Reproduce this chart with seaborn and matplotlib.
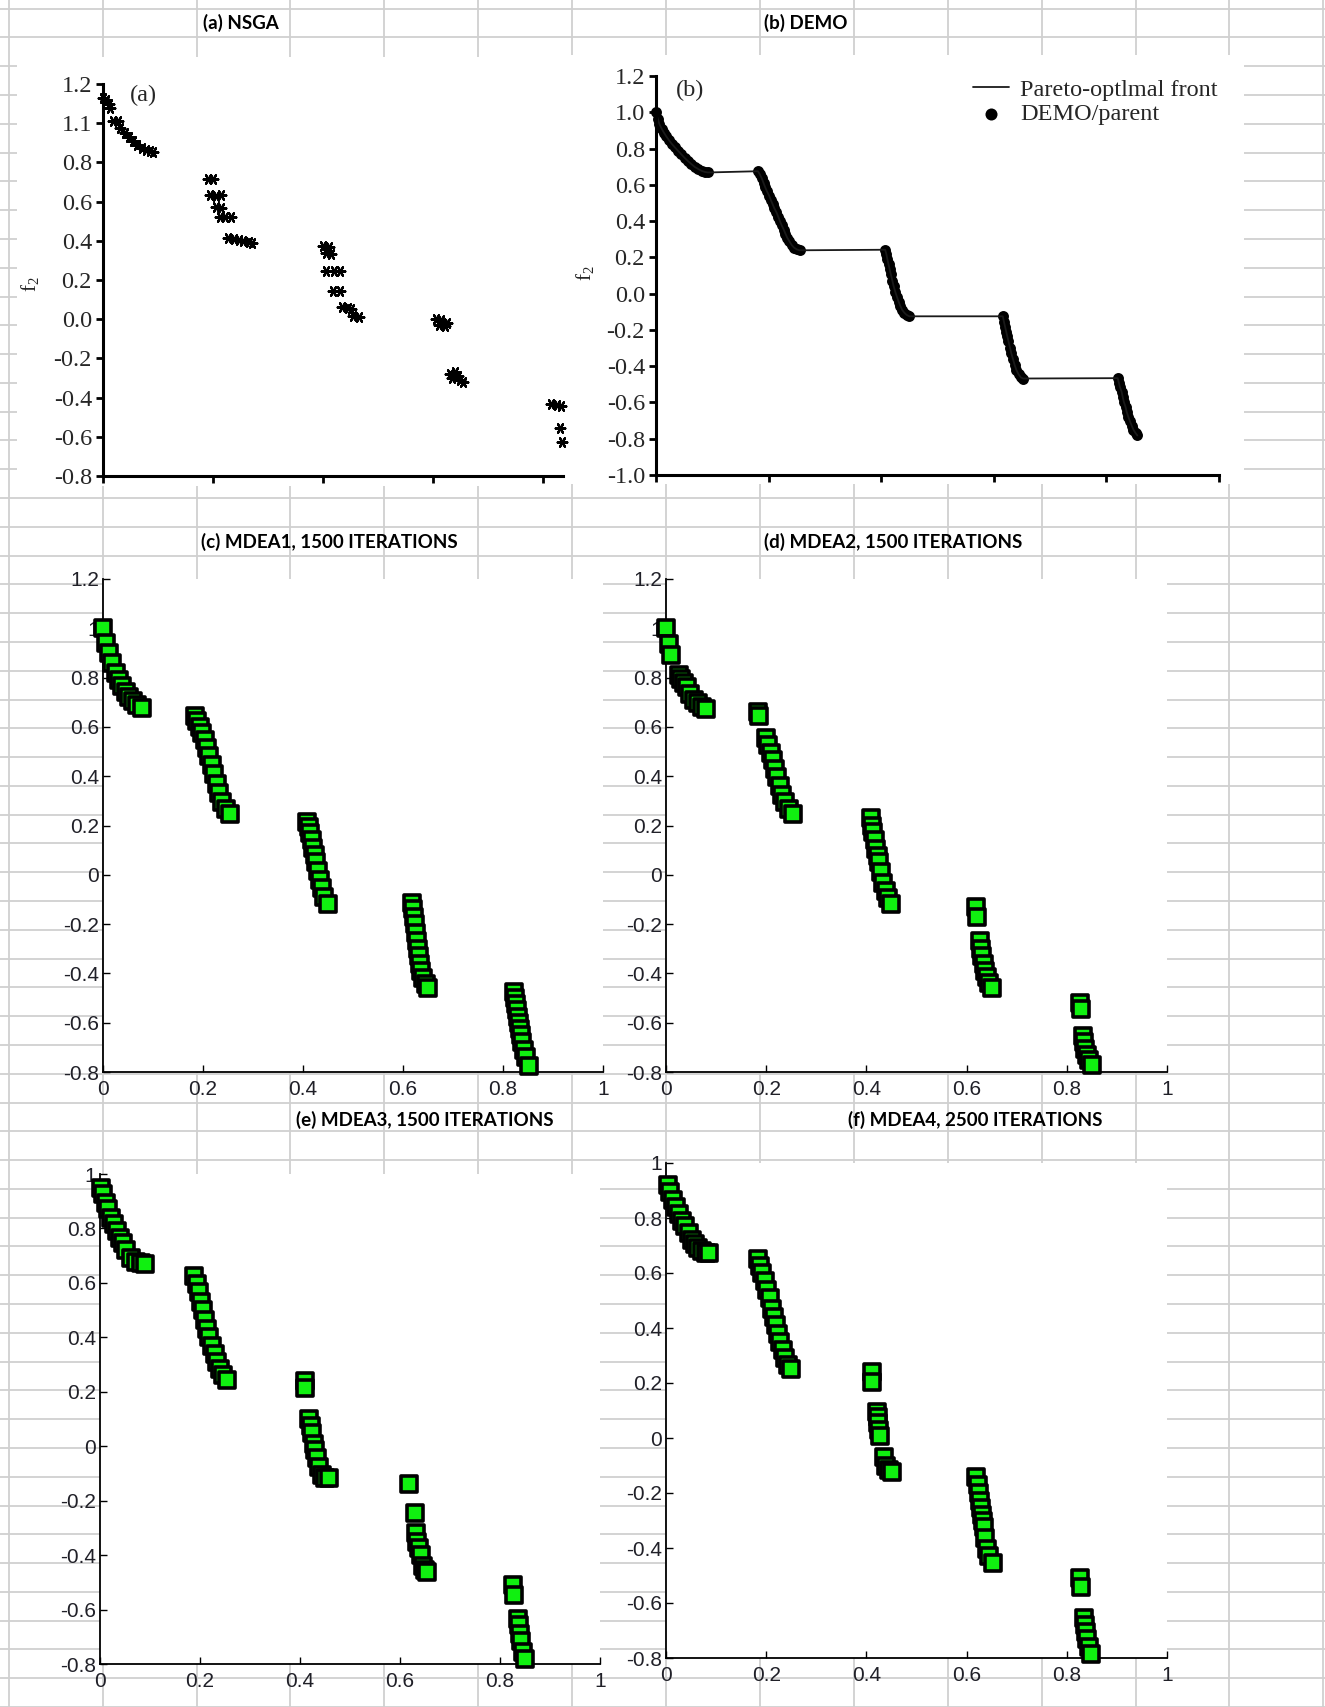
import numpy as np
import pandas as pd
import matplotlib
matplotlib.use("Agg")
import matplotlib.pyplot as plt
import seaborn as sns
from matplotlib.patches import Rectangle

# ---------------- data ----------------
# (a) NSGA
a_f1 = [0.000, 0.005, 0.010, 0.012, 0.018, 0.028, 0.031, 0.040, 0.047, 0.055, 0.062, 0.070, 0.078, 0.085, 0.090,
        0.190, 0.200, 0.195, 0.205, 0.215, 0.205, 0.215, 0.212, 0.222, 0.232, 0.228, 0.238, 0.248, 0.255, 0.265, 0.270,
        0.400, 0.410, 0.405, 0.415, 0.405, 0.420, 0.430, 0.418, 0.430, 0.435, 0.445, 0.450, 0.455, 0.465,
        0.605, 0.615, 0.625, 0.610, 0.622, 0.630, 0.640, 0.645, 0.635, 0.648, 0.655,
        0.815, 0.825, 0.833, 0.830, 0.834]
a_f2 = [1.13, 1.12, 1.10, 1.08, 1.01, 1.01, 0.975, 0.95, 0.93, 0.91, 0.89, 0.875, 0.865, 0.86, 0.855,
        0.716, 0.716, 0.635, 0.628, 0.633, 0.57, 0.565, 0.52, 0.52, 0.52, 0.415, 0.41, 0.405, 0.40, 0.395, 0.39,
        0.375, 0.37, 0.34, 0.335, 0.245, 0.245, 0.245, 0.145, 0.145, 0.06, 0.055, 0.05, 0.015, 0.01,
        0.0, -0.005, -0.02, -0.03, -0.035, -0.28, -0.27, -0.29, -0.30, -0.31, -0.32,
        -0.435, -0.44, -0.445, -0.555, -0.625]
a_ytick_vals = [-0.8, -0.6, -0.4, -0.2, 0.0, 0.2, 0.4, 0.6, 0.8, 1.0, 1.2]
a_ytick_labels = ['-0.8', '-0.6', '-0.4', '-0.2', '0.0', '0.2', '0.4', '0.6', '0.8', '1.1', '1.2']
ab_xtick_vals = [0.0, 0.2, 0.4, 0.6, 0.8]

# (b) DEMO
demo_f1 = [0.0, 0.003, 0.006, 0.01, 0.014, 0.018, 0.023, 0.028, 0.033, 0.039, 0.045, 0.051, 0.057, 0.063, 0.069, 0.075, 0.081, 0.087, 0.092,
           0.181, 0.184, 0.188, 0.191, 0.194, 0.197, 0.201, 0.204, 0.207, 0.21, 0.214, 0.217, 0.22, 0.223, 0.227, 0.23, 0.233, 0.237, 0.241, 0.245, 0.25, 0.255,
           0.407, 0.409, 0.411, 0.413, 0.415, 0.417, 0.42, 0.422, 0.425, 0.428, 0.431, 0.434, 0.437, 0.441, 0.445, 0.45,
           0.616, 0.618, 0.62, 0.622, 0.624, 0.626, 0.629, 0.631, 0.634, 0.637, 0.64, 0.644, 0.648, 0.652,
           0.82, 0.822, 0.824, 0.827, 0.829, 0.831, 0.834, 0.836, 0.839, 0.842, 0.845, 0.848, 0.852, 0.855]
demo_f2 = [1.0, 0.965, 0.935, 0.91, 0.888, 0.868, 0.846, 0.826, 0.808, 0.788, 0.768, 0.748, 0.73, 0.714, 0.698, 0.687, 0.677, 0.671, 0.668,
           0.675, 0.66, 0.635, 0.61, 0.586, 0.565, 0.54, 0.516, 0.494, 0.472, 0.448, 0.425, 0.401, 0.378, 0.352, 0.33, 0.309, 0.288, 0.268, 0.254, 0.244, 0.239,
           0.242, 0.22, 0.19, 0.161, 0.135, 0.108, 0.069, 0.042, 0.01, -0.018, -0.045, -0.068, -0.088, -0.105, -0.117, -0.125,
           -0.125, -0.155, -0.182, -0.209, -0.236, -0.262, -0.301, -0.328, -0.36, -0.393, -0.42, -0.445, -0.462, -0.468,
           -0.466, -0.49, -0.515, -0.541, -0.57, -0.597, -0.625, -0.652, -0.68, -0.705, -0.728, -0.75, -0.77, -0.782]
b_ytick_vals = [-1.0, -0.8, -0.6, -0.4, -0.2, 0.0, 0.2, 0.4, 0.6, 0.8, 1.0, 1.2]
b_ytick_labels = ['-1.0', '-0.8', '-0.6', '-0.4', '-0.2', '0.0', '0.2', '0.4', '0.6', '0.8', '1.0', '1.2']
b_xtick_vals = [0.0, 0.2, 0.4, 0.6, 0.8, 1.0]

# (c) MDEA1
c_f1 = [0.0, 0.006, 0.012, 0.018, 0.025, 0.032, 0.038, 0.045, 0.052, 0.06, 0.068, 0.078,
        0.183, 0.188, 0.193, 0.198, 0.203, 0.208, 0.212, 0.217, 0.222, 0.227, 0.232, 0.238, 0.245, 0.253,
        0.408, 0.411, 0.414, 0.417, 0.42, 0.423, 0.426, 0.429, 0.433, 0.437, 0.442, 0.45,
        0.617, 0.619, 0.621, 0.623, 0.625, 0.627, 0.629, 0.631, 0.633, 0.636, 0.64, 0.645, 0.65,
        0.822, 0.824, 0.826, 0.828, 0.83, 0.832, 0.834, 0.836, 0.838, 0.842, 0.846, 0.851]
c_f2 = [1.0, 0.94, 0.9, 0.86, 0.82, 0.79, 0.765, 0.74, 0.72, 0.705, 0.69, 0.675,
        0.645, 0.625, 0.6, 0.575, 0.545, 0.515, 0.48, 0.445, 0.41, 0.37, 0.33, 0.295, 0.265, 0.245,
        0.215, 0.195, 0.17, 0.14, 0.11, 0.08, 0.05, 0.015, -0.02, -0.055, -0.09, -0.12,
        -0.115, -0.14, -0.17, -0.2, -0.235, -0.27, -0.3, -0.33, -0.36, -0.39, -0.42, -0.445, -0.46,
        -0.475, -0.5, -0.525, -0.55, -0.575, -0.6, -0.625, -0.65, -0.68, -0.71, -0.74, -0.775]

# (d) MDEA2
d_f1 = [0.0, 0.005, 0.01, 0.025, 0.03, 0.036, 0.042, 0.048, 0.055, 0.063, 0.072, 0.08,
        0.184, 0.186, 0.199, 0.204, 0.209, 0.213, 0.217, 0.222, 0.227, 0.232, 0.238, 0.245, 0.254,
        0.41, 0.412, 0.414, 0.417, 0.42, 0.423, 0.426, 0.43, 0.434, 0.439, 0.444, 0.449,
        0.618, 0.62, 0.626, 0.628, 0.631, 0.634, 0.637, 0.64, 0.645, 0.651,
        0.826, 0.828, 0.833, 0.835, 0.837, 0.84, 0.844, 0.85]
d_f2 = [1.0, 0.935, 0.89, 0.81, 0.795, 0.78, 0.76, 0.735, 0.71, 0.695, 0.68, 0.672,
        0.66, 0.645, 0.555, 0.525, 0.495, 0.465, 0.43, 0.395, 0.36, 0.325, 0.295, 0.265, 0.245,
        0.23, 0.2, 0.175, 0.14, 0.105, 0.075, 0.05, 0.01, -0.035, -0.065, -0.095, -0.12,
        -0.13, -0.17, -0.27, -0.3, -0.33, -0.36, -0.39, -0.415, -0.44, -0.46,
        -0.52, -0.545, -0.655, -0.68, -0.705, -0.73, -0.75, -0.77]

# (e) MDEA3
e_f1 = [0.002, 0.006, 0.011, 0.016, 0.022, 0.028, 0.034, 0.04, 0.046, 0.052, 0.062, 0.072, 0.082, 0.09,
        0.187, 0.193, 0.198, 0.202, 0.206, 0.21, 0.214, 0.218, 0.223, 0.229, 0.234, 0.24, 0.246, 0.253,
        0.41, 0.41, 0.418, 0.421, 0.424, 0.427, 0.43, 0.434, 0.438, 0.443, 0.45, 0.457,
        0.618, 0.629, 0.632, 0.634, 0.637, 0.641, 0.645, 0.65, 0.654,
        0.826, 0.828, 0.836, 0.838, 0.84, 0.842, 0.845, 0.85]
e_f2 = [0.95, 0.925, 0.895, 0.87, 0.84, 0.815, 0.79, 0.765, 0.745, 0.72, 0.69, 0.675, 0.672, 0.67,
        0.625, 0.595, 0.565, 0.53, 0.5, 0.465, 0.43, 0.4, 0.37, 0.34, 0.31, 0.285, 0.26, 0.245,
        0.24, 0.215, 0.1, 0.075, 0.05, 0.01, -0.015, -0.045, -0.075, -0.105, -0.115, -0.118,
        -0.138, -0.245, -0.32, -0.35, -0.375, -0.4, -0.44, -0.455, -0.462,
        -0.51, -0.545, -0.635, -0.655, -0.69, -0.715, -0.755, -0.78]

# (f) MDEA4
f_f1 = [0.004, 0.008, 0.014, 0.02, 0.026, 0.032, 0.038, 0.045, 0.052, 0.058, 0.064, 0.072, 0.08, 0.085,
        0.184, 0.188, 0.192, 0.197, 0.202, 0.207, 0.211, 0.215, 0.219, 0.223, 0.228, 0.233, 0.238, 0.244, 0.25,
        0.411, 0.412, 0.422, 0.423, 0.424, 0.426, 0.428, 0.436, 0.44, 0.446, 0.452,
        0.619, 0.622, 0.624, 0.626, 0.628, 0.63, 0.632, 0.634, 0.637, 0.64, 0.645, 0.652,
        0.827, 0.829, 0.834, 0.836, 0.838, 0.841, 0.844, 0.848]
f_f2 = [0.92, 0.895, 0.865, 0.84, 0.815, 0.79, 0.77, 0.745, 0.72, 0.705, 0.69, 0.68, 0.673, 0.672,
        0.65, 0.625, 0.6, 0.57, 0.54, 0.51, 0.47, 0.44, 0.41, 0.38, 0.35, 0.32, 0.29, 0.265, 0.25,
        0.24, 0.205, 0.095, 0.075, 0.055, 0.03, 0.008, -0.07, -0.1, -0.115, -0.122,
        -0.14, -0.17, -0.2, -0.23, -0.255, -0.28, -0.3, -0.325, -0.365, -0.405, -0.43, -0.455,
        -0.51, -0.54, -0.655, -0.68, -0.705, -0.73, -0.76, -0.785]

mdea_xtick_vals = [0, 0.2, 0.4, 0.6, 0.8, 1.0]
mdea_xtick_labels = ['0', '0.2', '0.4', '0.6', '0.8', '1']
mdea_ytick_vals_12 = [-0.8, -0.6, -0.4, -0.2, 0, 0.2, 0.4, 0.6, 0.8, 1.0, 1.2]
mdea_ytick_labels_12 = ['-0.8', '-0.6', '-0.4', '-0.2', '0', '0.2', '0.4', '0.6', '0.8', '1', '1.2']
mdea_ytick_vals_10 = [-0.8, -0.6, -0.4, -0.2, 0, 0.2, 0.4, 0.6, 0.8, 1.0]
mdea_ytick_labels_10 = ['-0.8', '-0.6', '-0.4', '-0.2', '0', '0.2', '0.4', '0.6', '0.8', '1']

titles = ['(a) NSGA', '(b) DEMO', '(c) MDEA1, 1500 ITERATIONS', '(d) MDEA2, 1500 ITERATIONS',
          '(e) MDEA3, 1500 ITERATIONS', '(f) MDEA4, 2500 ITERATIONS']

# ---------------- figure ----------------
sns.set_theme(style="white")
plt.rcParams['axes.unicode_minus'] = False
SERIF = 'Liberation Serif'
SANS = 'Liberation Sans'
TITLEF = 'Lato'

W, H = 1325, 1707
fig = plt.figure(figsize=(W / 100, H / 100), dpi=100)
fig.patch.set_facecolor('white')

# spreadsheet background
bg = fig.add_axes([0, 0, 1, 1], zorder=0)
bg.set_xlim(0, W)
bg.set_ylim(H, 0)
grid_cols = [8.7 + 93.9 * i for i in range(15)]
grid_rows = [8.7 + 28.85 * i for i in range(60)]
bg.set_xticks(grid_cols)
bg.set_yticks(grid_rows)
bg.grid(True, color='#d0d0d0', lw=1.3)
bg.set_axisbelow(True)
bg.tick_params(length=0, labelbottom=False, labelleft=False)
for s in bg.spines.values():
    s.set_visible(False)
bg.add_patch(Rectangle((17, 57), 550, 430, facecolor='white', edgecolor='none', zorder=3))
bg.add_patch(Rectangle((567, 55), 677, 430, facecolor='white', edgecolor='none', zorder=3))


def px_axes(x0, y0, x1, y1):
    return fig.add_axes([x0 / W, 1 - y1 / H, (x1 - x0) / W, (y1 - y0) / H], zorder=2)


def ftext(x, y, s, **kw):
    fig.text(x / W, 1 - y / H, s, **kw)


def style_scan(ax):
    for side in ['top', 'right']:
        ax.spines[side].set_visible(False)
    for side in ['left', 'bottom']:
        ax.spines[side].set_color('black')
        ax.spines[side].set_linewidth(2.2)
    ax.tick_params(direction='out', length=5, width=2, color='black', pad=3,
                   bottom=True, left=True)


# (a) NSGA
axa = px_axes(103, 84, 563, 476)
axa.set_facecolor('white')
sns.scatterplot(x=a_f1, y=a_f2, marker=(6, 2, 90), s=48, color='black', edgecolor='black',
                linewidth=1.6, ax=axa, legend=False, clip_on=False)
axa.set_xlim(0, 0.836)
axa.set_ylim(-0.8, 1.2)
axa.set_xticks(ab_xtick_vals, [''] * len(ab_xtick_vals))
axa.set_yticks(a_ytick_vals, a_ytick_labels, fontfamily=SERIF, fontsize=17.5)
style_scan(axa)
axa.set_xlabel('')
axa.set_ylabel(r'$\mathregular{f_2}$', fontfamily=SERIF, fontsize=15)
axa.yaxis.set_label_coords(-0.135, 0.49)
axa.text(0.059, 0.972, '(a)', transform=axa.transAxes, ha='left', va='center',
         fontfamily=SERIF, fontsize=17.5)

# (b) DEMO
axb = px_axes(656, 76, 1219, 475)
axb.set_facecolor('white')
sns.lineplot(x=demo_f1, y=demo_f2, sort=False, estimator=None, color='#1a1a1a', lw=1.3,
             ax=axb, label='Pareto-optlmal front')
sns.scatterplot(x=demo_f1, y=demo_f2, s=62, color='black', edgecolor='black', linewidth=0,
                ax=axb, label='DEMO/parent', clip_on=False)
axb.set_xlim(0, 1.0)
axb.set_ylim(-1.0, 1.2)
axb.set_xticks(b_xtick_vals, [''] * len(b_xtick_vals))
axb.set_yticks(b_ytick_vals, b_ytick_labels, fontfamily=SERIF, fontsize=17.5)
style_scan(axb)
axb.set_xlabel('')
axb.set_ylabel(r'$\mathregular{f_2}$', fontfamily=SERIF, fontsize=15)
axb.yaxis.set_label_coords(-0.107, 0.506)
axb.text(0.036, 0.965, '(b)', transform=axb.transAxes, ha='left', va='center',
         fontfamily=SERIF, fontsize=17.5)
axb.legend(loc='upper right', bbox_to_anchor=(1.015, 1.018), frameon=False,
           prop={'family': SERIF, 'size': 17.5}, handlelength=1.5, handletextpad=0.45,
           labelspacing=0.12, borderaxespad=0.0, markerscale=1.1)


def mdea_panel(rect, f1, f2, ymax, yvals, ylabels):
    ax = px_axes(*rect)
    ax.set_facecolor('white')
    sns.scatterplot(x=f1, y=f2, marker='s', s=130, color='#10f010', edgecolor='black',
                    linewidth=2.6, ax=ax, legend=False, zorder=3, clip_on=False)
    ax.set_xlim(0, 1)
    ax.set_ylim(-0.8, ymax)
    ax.set_xticks(mdea_xtick_vals, mdea_xtick_labels, fontfamily=SANS, fontsize=15)
    ax.set_yticks(yvals, ylabels, fontfamily=SANS, fontsize=15)
    for side in ['top', 'right']:
        ax.spines[side].set_visible(False)
    for side in ['left', 'bottom']:
        ax.spines[side].set_color('black')
        ax.spines[side].set_linewidth(1.3)
    ax.tick_params(direction='in', length=5, width=1, color='black', labelcolor='#202028',
                   pad=3, bottom=True, left=True)
    ax.tick_params(axis='x', pad=6)
    ax.set_xlabel('')
    ax.set_ylabel('')
    return ax


mdea_panel((103, 579, 603, 1072), c_f1, c_f2, 1.2, mdea_ytick_vals_12, mdea_ytick_labels_12)
mdea_panel((666, 579, 1167, 1072), d_f1, d_f2, 1.2, mdea_ytick_vals_12, mdea_ytick_labels_12)
mdea_panel((100, 1174, 600, 1664), e_f1, e_f2, 1.0, mdea_ytick_vals_10, mdea_ytick_labels_10)
mdea_panel((666, 1163, 1167, 1658), f_f1, f_f2, 1.0, mdea_ytick_vals_10, mdea_ytick_labels_10)

# titles in spreadsheet cells
title_pos = [(241, 23), (806, 23), (329, 542), (893, 542), (425, 1120), (975, 1120)]
for t, (tx, ty) in zip(titles, title_pos):
    ftext(tx, ty, t, ha='center', va='center', fontfamily=TITLEF, fontweight='bold',
          fontsize=13.5, color='black', zorder=5)

fig.savefig('out.png', dpi=100, facecolor='white')
